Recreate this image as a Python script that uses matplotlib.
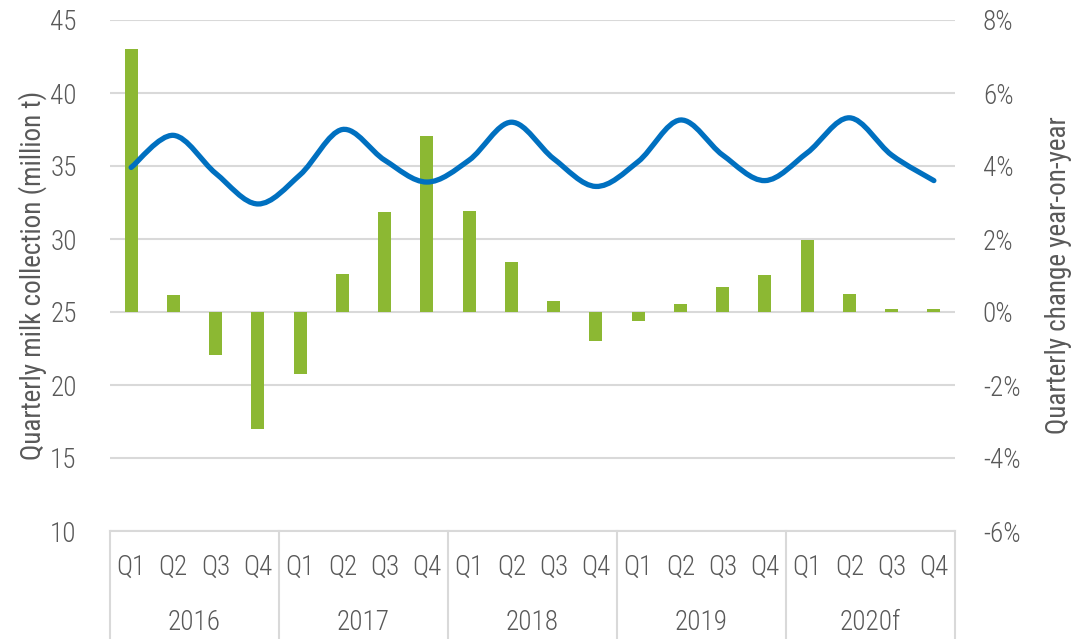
import numpy as np
import matplotlib.pyplot as plt
from matplotlib.path import Path
from matplotlib.patches import PathPatch
import matplotlib.transforms as mtransforms

plt.rcParams['font.family'] = ['Roboto Condensed', 'Roboto', 'DejaVu Sans']
plt.rcParams['font.weight'] = 'light'

# data
years = ['2016', '2017', '2018', '2019', '2020f']
quarters = ['Q1', 'Q2', 'Q3', 'Q4']
collection = [34.9, 37.1, 34.5, 32.4,
              34.4, 37.5, 35.4, 33.9,
              35.4, 38.0, 35.5, 33.6,
              35.3, 38.15, 35.75, 34.0,
              35.9, 38.3, 35.75, 34.0]
change_pct = [7.2, 0.47, -1.18, -3.2,
              -1.7, 1.04, 2.74, 4.83,
              2.76, 1.37, 0.3, -0.8,
              -0.25, 0.23, 0.68, 1.01,
              1.98, 0.48, 0.08, 0.08]

grey = '#595959'
grid_c = '#d9d9d9'
bar_c = '#8cb833'
line_c = '#0070c0'
fs = 19.5

fig = plt.figure(figsize=(10.72, 6.39), dpi=100)
ax = fig.add_axes([110/1072, 108/639, 845/1072, 511/639])
ax2 = ax.twinx()

x = np.arange(len(collection))

# bars on the right axis
ax2.bar(x, change_pct, width=0.31, color=bar_c, zorder=3)
ax2.set_ylim(-6, 8)
ax2.set_yticks(np.arange(-6, 9, 2))
ax2.set_yticklabels([f'{v}%' for v in range(-6, 9, 2)])
ax2.grid(axis='y', color=grid_c, linewidth=1.5, zorder=0)
ax2.set_axisbelow(True)

# smooth line on the left axis (catmull-rom -> bezier)
pts = np.column_stack([x, collection])
verts = [pts[0]]
codes = [Path.MOVETO]
for i in range(len(pts) - 1):
    p0 = pts[i - 1] if i > 0 else pts[i]
    p1, p2 = pts[i], pts[i + 1]
    p3 = pts[i + 2] if i + 2 < len(pts) else pts[i + 1]
    c1 = p1 + (p2 - p0) / 6
    c2 = p2 - (p3 - p1) / 6
    verts += [c1, c2, p2]
    codes += [Path.CURVE4] * 3
ax.add_patch(PathPatch(Path(verts, codes), facecolor='none', edgecolor=line_c,
                       linewidth=3.8, capstyle='round', zorder=4))
ax.set_ylim(10, 45)
ax.set_yticks(range(10, 46, 5))
ax.set_xlim(-0.5, len(x) - 0.5)
ax.set_zorder(ax2.get_zorder() + 1)
ax.patch.set_visible(False)

for a in (ax, ax2):
    for s in a.spines.values():
        s.set_visible(False)
    a.tick_params(length=0, labelsize=fs, labelcolor=grey)
ax.tick_params(axis='y', pad=24)
ax2.tick_params(axis='y', pad=20)
ax.spines['bottom'].set_visible(True)
ax.spines['bottom'].set_color(grid_c)
ax.spines['bottom'].set_linewidth(1.5)

ax.set_ylabel('Quarterly milk collection (million t)', fontsize=fs, color=grey, labelpad=2)
ax2.set_ylabel('Quarterly change year-on-year', fontsize=fs, color=grey, labelpad=18)

# two-level category axis
ax.set_xticks([])
trans = mtransforms.blended_transform_factory(ax.transData, ax.transAxes)
for i, q in enumerate(quarters * len(years)):
    ax.text(i, -0.072, q, transform=trans, ha='center', va='center',
            fontsize=fs, color=grey)
for j, yr in enumerate(years):
    ax.text(j * 4 + 1.5, -0.18, yr, transform=trans, ha='center', va='center',
            fontsize=fs, color=grey)
for b in np.arange(-0.5, len(x), 4):
    ax.plot([b, b], [0, -0.215], transform=trans, color=grid_c, linewidth=1.5,
            clip_on=False)

fig.savefig('out.png', dpi=100)
